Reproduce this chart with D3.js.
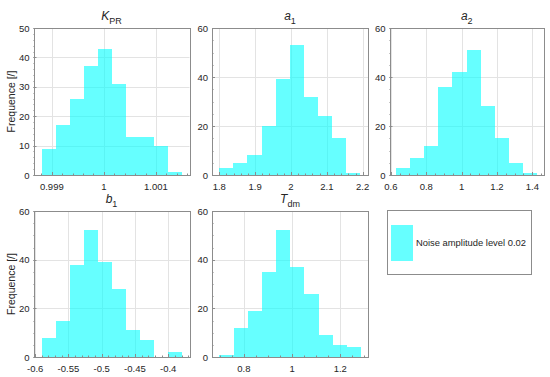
<!DOCTYPE html>
<html>
<head>
<meta charset="utf-8">
<script src="https://cdn.jsdelivr.net/npm/d3@7"></script>
<style>
  body { margin: 0; background: #fff; }
  text { font-family: "Liberation Sans", Arial, sans-serif; fill: #262626; }
</style>
</head>
<body>
<div id="container"></div>
<script>
/* DATA */
const kprCounts = [9, 17, 26, 37, 43, 31, 13, 13, 10, 1];
const a1Counts  = [3, 5, 8, 20, 39, 53, 32, 24, 15, 1];
const a2Counts  = [3, 7, 12, 36, 42, 51, 28, 15, 5, 1];
const b1Counts  = [8, 15, 38, 52, 39, 28, 11, 7, 0, 2];
const tdmCounts = [1, 12, 19, 35, 52, 37, 26, 9, 5, 4];

// first bin edge and bin width for each parameter
const binStarts = [0.998803, 1.8, 0.6282, -0.590, 0.6987];
const binWidths = [0.00027, 0.0393, 0.0800, 0.0211, 0.0588];

const xDomains = [[0.998648, 1.001644], [1.7797, 2.2148], [0.592, 1.466], [-0.6025, -0.368], [0.668, 1.3148]];
const xTickValues = [[0.999, 1, 1.001], [1.8, 1.9, 2, 2.1, 2.2], [0.6, 0.8, 1, 1.2, 1.4], [-0.6, -0.55, -0.5, -0.45, -0.4], [0.8, 1, 1.2]];
const xTickLabels = [["0.999", "1", "1.001"], ["1.8", "1.9", "2", "2.1", "2.2"], ["0.6", "0.8", "1", "1.2", "1.4"], ["-0.6", "-0.55", "-0.5", "-0.45", "-0.4"], ["0.8", "1", "1.2"]];
const xMinorSteps = [0.0002, 0.02, 0.05, 0.01, 0.05];
const yMaxes = [50, 60, 60, 60, 60];
const yTickValues = [[0, 10, 20, 30, 40, 50], [0, 20, 40, 60], [0, 20, 40, 60], [0, 20, 40, 60], [0, 20, 40, 60]];
const yMinorSteps = [2, 5, 5, 5, 5];
const titleMain = ["K", "a", "a", "b", "T"];
const titleSub = ["PR", "1", "2", "1", "dm"];
const legendLabel = "Noise amplitude level 0.02";

/* LAYOUT */
const width = 550, height = 377;
const boxes = [
  [33.5, 28, 189.5, 175],
  [212, 28, 368, 175],
  [389.5, 28, 544, 175],
  [33.5, 211, 189.5, 357],
  [212, 211, 368, 357]
];
const allCounts = [kprCounts, a1Counts, a2Counts, b1Counts, tdmCounts];

const svg = d3.select("#container")
  .append("svg")
  .attr("width", width)
  .attr("height", height);

const axisColor = "#8c8c8c";
const gridColor = "#e3e3e3";
const barColor = "#00ffff";

allCounts.forEach((counts, p) => {
  const [x0, y0, x1, y1] = boxes[p];
  const xScale = d3.scaleLinear().domain(xDomains[p]).range([x0, x1]);
  const yScale = d3.scaleLinear().domain([0, yMaxes[p]]).range([y1, y0]);
  const g = svg.append("g");

  // grid
  g.selectAll("line.xgrid")
    .data(xTickValues[p])
    .join("line")
    .attr("x1", d => Math.round(xScale(d)) + 0.5)
    .attr("x2", d => Math.round(xScale(d)) + 0.5)
    .attr("y1", y0).attr("y2", y1)
    .attr("stroke", gridColor);
  g.selectAll("line.ygrid")
    .data(yTickValues[p])
    .join("line")
    .attr("y1", d => Math.round(yScale(d)) + 0.5)
    .attr("y2", d => Math.round(yScale(d)) + 0.5)
    .attr("x1", x0).attr("x2", x1)
    .attr("stroke", gridColor);

  // bars
  const bins = counts.map((c, i) => ({
    lo: binStarts[p] + i * binWidths[p],
    hi: binStarts[p] + (i + 1) * binWidths[p],
    c: c
  }));
  g.selectAll("rect.bar")
    .data(bins.filter(d => d.c > 0))
    .join("rect")
    .attr("class", "bar")
    .attr("x", d => xScale(d.lo))
    .attr("width", d => xScale(d.hi) - xScale(d.lo))
    .attr("y", d => yScale(d.c))
    .attr("height", d => yScale(0) - yScale(d.c))
    .attr("fill", barColor)
    .attr("fill-opacity", 0.6)
    .attr("shape-rendering", "crispEdges");

  // minor ticks
  const xm = d3.range(Math.ceil(xDomains[p][0] / xMinorSteps[p]), Math.floor(xDomains[p][1] / xMinorSteps[p]) + 1)
    .map(k => k * xMinorSteps[p]);
  g.selectAll("line.xminor")
    .data(xm)
    .join("line")
    .attr("x1", d => Math.round(xScale(d)) + 0.5)
    .attr("x2", d => Math.round(xScale(d)) + 0.5)
    .attr("y1", y1).attr("y2", y1 - 1.5)
    .attr("stroke", axisColor);
  const ym = d3.range(0, yMaxes[p] + 0.001, yMinorSteps[p]);
  g.selectAll("line.yminor")
    .data(ym)
    .join("line")
    .attr("y1", d => Math.round(yScale(d)) + 0.5)
    .attr("y2", d => Math.round(yScale(d)) + 0.5)
    .attr("x1", x0).attr("x2", x0 + 1.5)
    .attr("stroke", axisColor);

  // major ticks (inward)
  g.selectAll("line.xtick")
    .data(xTickValues[p])
    .join("line")
    .attr("x1", d => Math.round(xScale(d)) + 0.5)
    .attr("x2", d => Math.round(xScale(d)) + 0.5)
    .attr("y1", y1).attr("y2", y1 - 3)
    .attr("stroke", axisColor);
  g.selectAll("line.ytick")
    .data(yTickValues[p])
    .join("line")
    .attr("y1", d => Math.round(yScale(d)) + 0.5)
    .attr("y2", d => Math.round(yScale(d)) + 0.5)
    .attr("x1", x0).attr("x2", x0 + 3)
    .attr("stroke", axisColor);

  // box
  g.append("rect")
    .attr("x", Math.round(x0) + 0.5)
    .attr("y", Math.round(y0) + 0.5)
    .attr("width", Math.round(x1) - Math.round(x0))
    .attr("height", Math.round(y1) - Math.round(y0))
    .attr("fill", "none")
    .attr("stroke", axisColor);

  // tick labels
  g.selectAll("text.xlab")
    .data(xTickValues[p])
    .join("text")
    .attr("x", d => xScale(d))
    .attr("y", y1 + 14.5)
    .attr("text-anchor", "middle")
    .attr("font-size", 9.5)
    .text((d, i) => xTickLabels[p][i]);
  g.selectAll("text.ylab")
    .data(yTickValues[p])
    .join("text")
    .attr("x", x0 - 4)
    .attr("y", d => yScale(d) + 3.5)
    .attr("text-anchor", "end")
    .attr("font-size", 9.5)
    .text(d => d);

  // title
  const t = g.append("text")
    .attr("x", (x0 + x1) / 2)
    .attr("y", y0 - 8)
    .attr("text-anchor", "middle")
    .attr("font-size", 12);
  t.append("tspan").attr("font-style", "italic").text(titleMain[p]);
  t.append("tspan").attr("font-size", 9).attr("dy", 3.5).text(titleSub[p]);

  // y label on left column
  if (p === 0 || p === 3) {
    g.append("text")
      .attr("transform", `translate(15, ${(y0 + y1) / 2}) rotate(-90)`)
      .attr("text-anchor", "middle")
      .attr("font-size", 10.5)
      .text("Frequence [/]");
  }
});

/* LEGEND */
const leg = svg.append("g");
leg.append("rect")
  .attr("x", 387.5).attr("y", 210.5)
  .attr("width", 144).attr("height", 64)
  .attr("fill", "#fff")
  .attr("stroke", axisColor);
leg.append("rect")
  .attr("x", 391).attr("y", 225)
  .attr("width", 22).attr("height", 36)
  .attr("fill", barColor)
  .attr("fill-opacity", 0.6);
leg.append("text")
  .attr("x", 416).attr("y", 246)
  .attr("font-size", 9.4)
  .text(legendLabel);
</script>
</body>
</html>
